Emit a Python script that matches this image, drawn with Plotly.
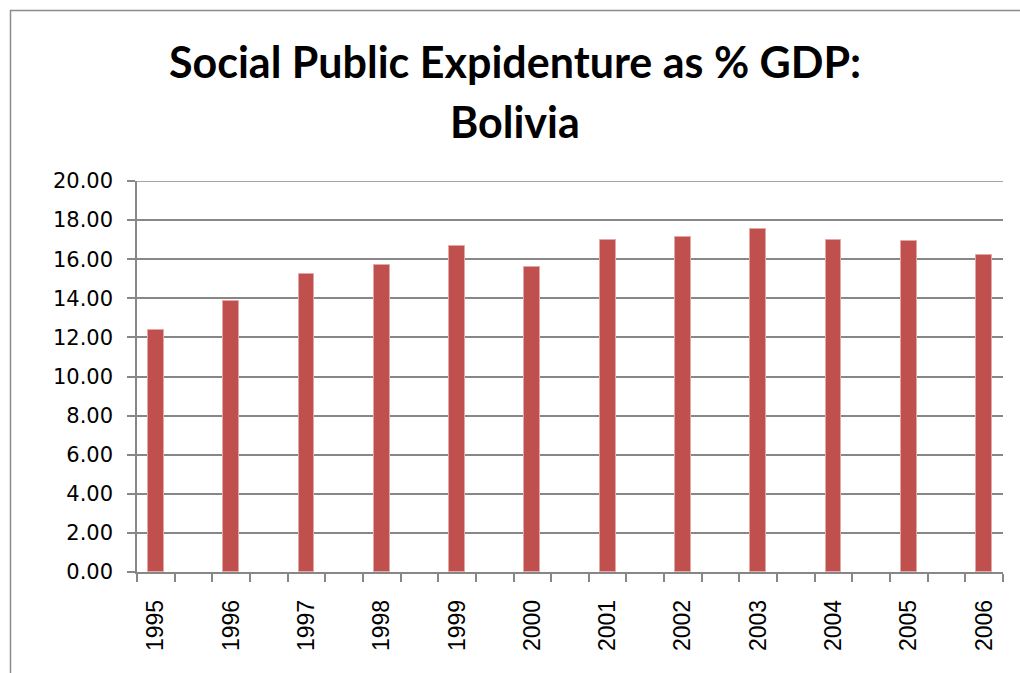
import plotly.graph_objects as go

# Social public expenditure as a share of GDP, Bolivia
years = ["1995", "1996", "1997", "1998", "1999", "2000",
         "2001", "2002", "2003", "2004", "2005", "2006"]
spending_pct_gdp = [12.39, 13.85, 15.22, 15.69, 16.66, 15.61,
                    16.98, 17.16, 17.57, 16.97, 16.95, 16.22]
y_ticks = [0, 2, 4, 6, 8, 10, 12, 14, 16, 18, 20]
title_lines = ["Social Public Expidenture as % GDP:", "Bolivia"]

# Every year sits in its own slot with an empty slot between consecutive years
slot_pos = [2 * i for i in range(len(years))]
n_slots = 2 * len(years) - 1
slot_edges = [k - 0.5 for k in range(n_slots + 1)]

GRAY = "#878787"
BAR = "#C0504D"
TITLE_FONT = dict(family="Lato, Open Sans, sans-serif", size=43,
                  color="black", weight="bold")

fig = go.Figure(
    go.Bar(
        x=slot_pos,
        y=spending_pct_gdp,
        width=0.42,
        marker=dict(color=BAR, line=dict(color="#E3A7A5", width=1)),
        hoverinfo="skip",
    )
)

fig.update_layout(
    width=1020,
    height=673,
    margin=dict(l=137, r=17, t=181, b=101),
    paper_bgcolor="white",
    plot_bgcolor="white",
    showlegend=False,
    bargap=0,
    annotations=[
        dict(
            text=line,
            xref="paper", yref="paper",
            x=(515 - 137) / 866, y=(572 - y_mid) / 391,
            xanchor="center", yanchor="middle",
            showarrow=False,
            font=TITLE_FONT,
        )
        for line, y_mid in zip(title_lines, [62, 122])
    ],
    shapes=[
        # outer chart frame
        dict(
            type="rect", xref="paper", yref="paper",
            x0=(10.5 - 137) / 866, x1=(1030 - 137) / 866,
            y0=(572 - 690) / 391, y1=(572 - 10.5) / 391,
            line=dict(color="#8C8C8C", width=1.5),
            fillcolor="rgba(0,0,0,0)",
            layer="below",
        ),
        # top gridline at the axis maximum
        dict(
            type="line", xref="paper", yref="y",
            x0=0, x1=1, y0=y_ticks[-1], y1=y_ticks[-1],
            line=dict(color=GRAY, width=1.5),
            layer="below",
        ),
    ],
)

fig.update_xaxes(
    range=[-0.5, n_slots - 0.5],
    tickmode="array",
    tickvals=slot_pos,
    ticktext=years,
    tickangle=-90,
    ticks="outside",
    ticklen=8,
    tickcolor="rgba(0,0,0,0)",
    ticklabelstandoff=9,
    tickfont=dict(family="Liberation Sans, Arial, sans-serif", size=23, color="black"),
    showgrid=False,
    showline=True,
    linecolor=GRAY,
    linewidth=1.5,
    zeroline=False,
    minor=dict(
        tickmode="array",
        tickvals=slot_edges,
        ticks="outside",
        ticklen=8,
        tickcolor=GRAY,
        tickwidth=1.5,
        showgrid=False,
    ),
)

fig.update_yaxes(
    range=[0, 20],
    tickmode="array",
    tickvals=y_ticks,
    tickformat=".2f",
    ticks="outside",
    ticklen=8,
    tickcolor=GRAY,
    tickwidth=1.5,
    ticklabelstandoff=10,
    tickfont=dict(family="DejaVu Sans, sans-serif", size=21, color="black"),
    showgrid=True,
    gridcolor=GRAY,
    gridwidth=1.5,
    showline=True,
    linecolor=GRAY,
    linewidth=1.5,
    zeroline=False,
)

fig.write_html("out.html")
